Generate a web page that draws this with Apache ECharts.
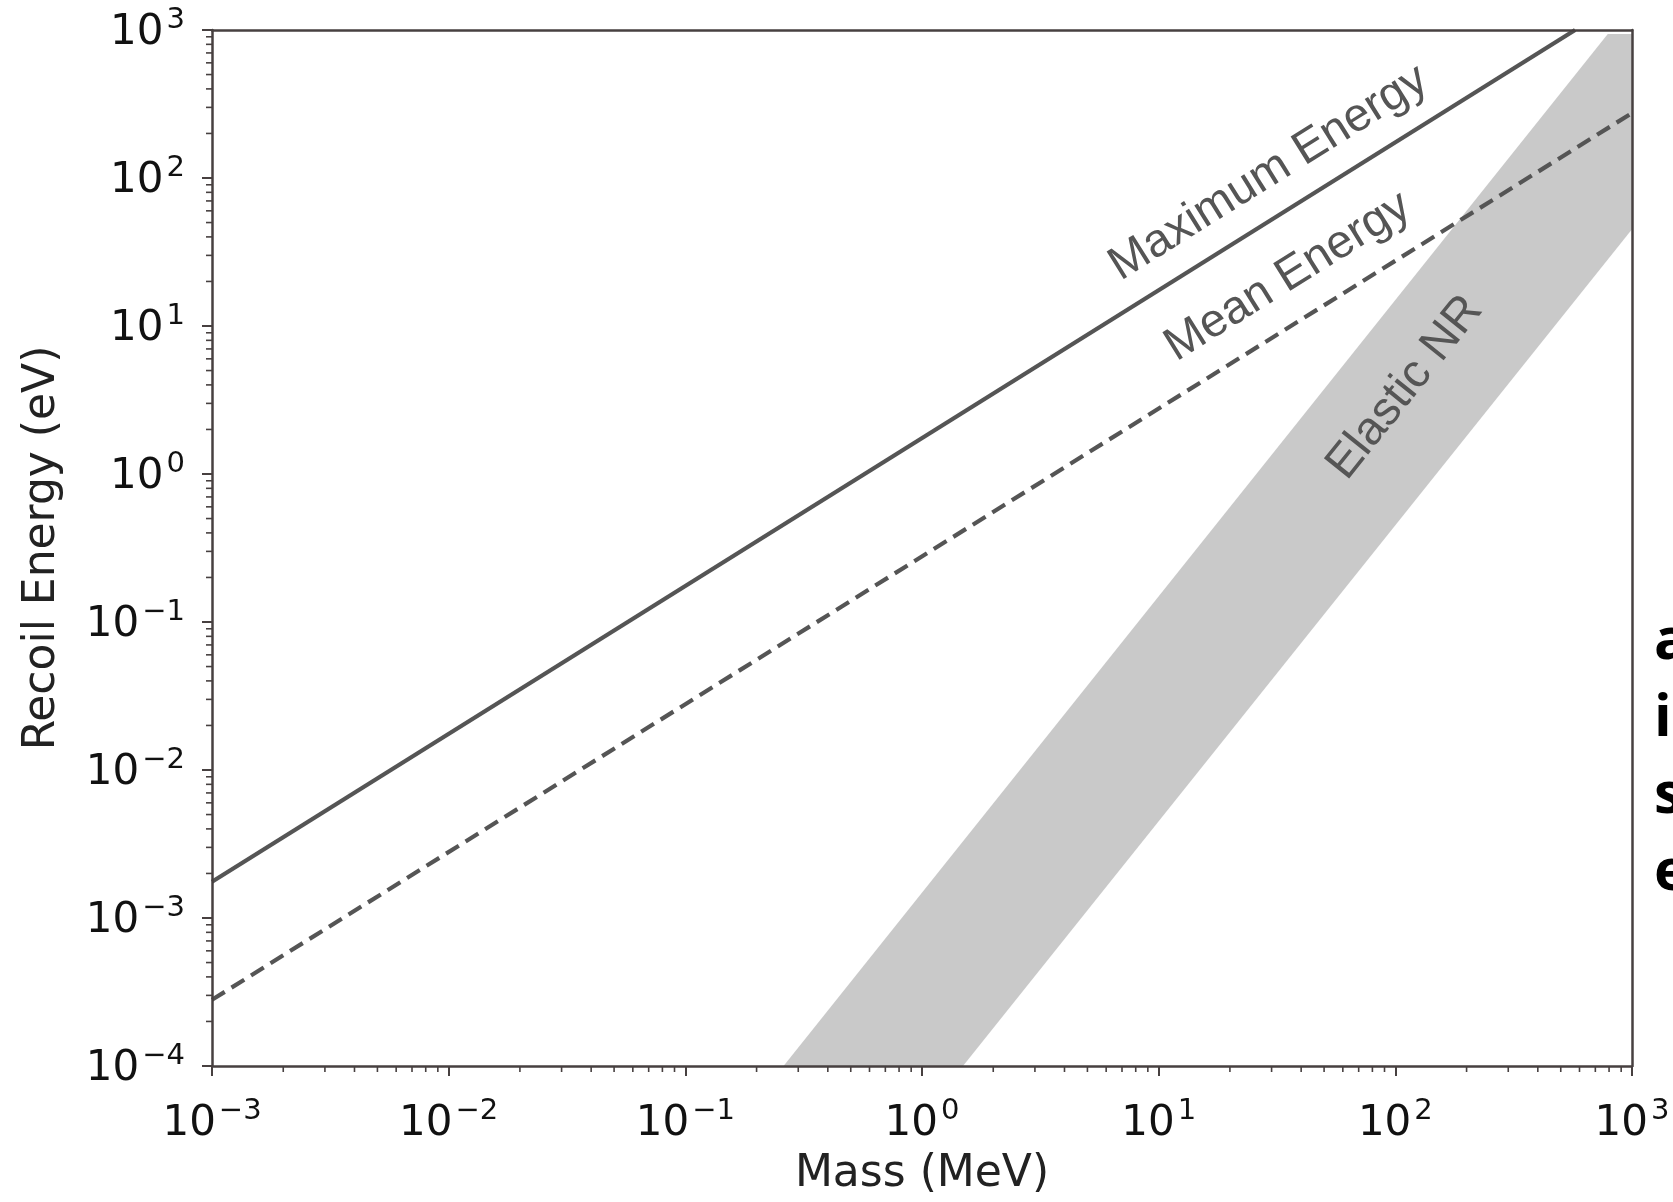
<!DOCTYPE html>
<html><head><meta charset="utf-8">
<script src="https://cdn.jsdelivr.net/npm/echarts@6/dist/echarts.min.js"></script>
<style>html,body{margin:0;padding:0;background:#fff}#c{width:1673px;height:1202px}</style>
</head><body><div id="c"></div>
<script>
// ---- data ----
const massRange = [1e-3, 1e3];           // x axis (MeV)
const energyRange = [1e-4, 1e3];         // y axis (eV)
const minorMultipliers = [2, 3, 4, 5, 6, 7, 8, 9];

const maxEnergyMass = [1e-3, 575];
const maxEnergyValues = [1.76e-3, 1000];

const meanEnergyMass = [1e-3, 1e3];
const meanEnergyValues = [2.8e-4, 275];

// Elastic NR band outline (polygon vertices)
const bandMass = [0.26, 790, 1000, 1000, 1.49];
const bandEnergy = [1e-4, 940, 940, 45, 1e-4];

const annotationText = ['Maximum Energy', 'Mean Energy', 'Elastic NR'];
const annotationMass = [29.2, 35.2, 110];
const annotationEnergy = [108, 21.5, 3.83];

const sideLetters = ['a', 'i', 's', 'e'];

// ---- helpers ----
const decadesX = [];
for (let e = Math.round(Math.log10(massRange[0])); e < Math.round(Math.log10(massRange[1])); e++) decadesX.push(Math.pow(10, e));
const decadesY = [];
for (let e = Math.round(Math.log10(energyRange[0])); e < Math.round(Math.log10(energyRange[1])); e++) decadesY.push(Math.pow(10, e));
const xMinor = [], yMinor = [];
decadesX.forEach(d => minorMultipliers.forEach(m => xMinor.push([d * m, energyRange[0]])));
decadesY.forEach(d => minorMultipliers.forEach(m => yMinor.push([massRange[0], d * m])));

const annotationRef = [
  [[maxEnergyMass[0], maxEnergyValues[0]], [maxEnergyMass[1], maxEnergyValues[1]]],
  [[meanEnergyMass[0], meanEnergyValues[0]], [meanEnergyMass[1], meanEnergyValues[1]]],
  [[bandMass[4], bandEnergy[4]], [bandMass[3], bandEnergy[3]]]
];

const AX = '#474040';
const FONT = 'DejaVu Sans';
function powLabel(v) {
  const e = Math.round(Math.log10(v));
  return '{b|10}{s|' + (e < 0 ? '\u2212' + (-e) : String(e)) + '}';
}
const rich = {
  b: { fontSize: 42, fontFamily: FONT, color: '#111', lineHeight: 48, verticalAlign: 'bottom' },
  s: { fontSize: 29, fontFamily: FONT, color: '#111', lineHeight: 24, verticalAlign: 'top', padding: [0, 0, 0, 3] }
};

const chart = echarts.init(document.getElementById('c'), null, { renderer: 'canvas' });
chart.setOption({
  animation: false,
  backgroundColor: '#fff',
  grid: { left: 212, right: 41, top: 30, bottom: 135 },
  xAxis: [{
    type: 'log', logBase: 10, min: massRange[0], max: massRange[1], splitNumber: 6,
    name: 'Mass (MeV)', nameLocation: 'middle', nameGap: 87, nameMoveOverlap: false,
    nameTextStyle: { fontSize: 44, fontFamily: FONT, color: '#222' },
    axisLine: { show: true, lineStyle: { color: AX, width: 2.5 } },
    axisTick: { show: true, length: 10, lineStyle: { color: AX, width: 2 } },
    axisLabel: { formatter: powLabel, rich: rich, margin: 31 },
    splitLine: { show: false }, z: 5
  }, {
    type: 'log', logBase: 10, min: massRange[0], max: massRange[1], position: 'top',
    axisLine: { show: true, onZero: false, lineStyle: { color: AX, width: 2.5 } },
    axisTick: { show: false }, axisLabel: { show: false }, splitLine: { show: false }, z: 5
  }],
  yAxis: [{
    type: 'log', logBase: 10, min: energyRange[0], max: energyRange[1], splitNumber: 7,
    name: 'Recoil Energy (eV)', nameLocation: 'middle', nameGap: 147, nameMoveOverlap: false,
    nameTextStyle: { fontSize: 44, fontFamily: FONT, color: '#222' },
    axisLine: { show: true, lineStyle: { color: AX, width: 2.5 } },
    axisTick: { show: true, length: 10, lineStyle: { color: AX, width: 2 } },
    axisLabel: { formatter: powLabel, rich: rich, margin: 27 },
    splitLine: { show: false }, z: 5
  }, {
    type: 'log', logBase: 10, min: energyRange[0], max: energyRange[1], position: 'right',
    axisLine: { show: true, onZero: false, lineStyle: { color: AX, width: 2.5 } },
    axisTick: { show: false }, axisLabel: { show: false }, splitLine: { show: false }, z: 5
  }],
  series: [
    {
      type: 'custom', name: 'Elastic NR', clip: true, z: 1,
      data: bandMass.map((m, k) => [m, bandEnergy[k]]),
      renderItem: function (params, api) {
        if (params.dataIndex !== 0) return null;
        const pts = bandMass.map((m, k) => api.coord([m, bandEnergy[k]]));
        return { type: 'polygon', shape: { points: pts }, style: { fill: '#c9c9c9' } };
      }
    },
    {
      type: 'line', name: 'Maximum Energy', symbol: 'none', clip: true, z: 3,
      data: maxEnergyMass.map((m, k) => [m, maxEnergyValues[k]]),
      lineStyle: { color: '#555555', width: 4.2 }
    },
    {
      type: 'line', name: 'Mean Energy', symbol: 'none', clip: true, z: 3,
      data: meanEnergyMass.map((m, k) => [m, meanEnergyValues[k]]),
      lineStyle: { color: '#555555', width: 4.2, type: [15, 8] }
    },
    {
      type: 'custom', name: 'labels', z: 4,
      data: annotationMass.map((m, k) => [m, annotationEnergy[k]]),
      renderItem: function (params, api) {
        const i = params.dataIndex;
        const p = api.coord([annotationMass[i], annotationEnergy[i]]);
        const a = api.coord(annotationRef[i][0]);
        const b = api.coord(annotationRef[i][1]);
        const ang = Math.atan2(a[1] - b[1], b[0] - a[0]);
        return {
          type: 'text', x: p[0], y: p[1], rotation: ang,
          style: { text: annotationText[i], fontSize: 47, fontFamily: 'Liberation Sans', fill: '#555555', align: 'center', verticalAlign: 'middle' }
        };
      }
    },
    {
      type: 'custom', name: 'xminor', z: 6,
      data: xMinor,
      renderItem: function (params, api) {
        const p = api.coord([api.value(0), api.value(1)]);
        return { type: 'line', shape: { x1: p[0], y1: p[1], x2: p[0], y2: p[1] + 6 }, style: { stroke: AX, lineWidth: 1.6 } };
      }
    },
    {
      type: 'custom', name: 'yminor', z: 6,
      data: yMinor,
      renderItem: function (params, api) {
        const p = api.coord([api.value(0), api.value(1)]);
        return { type: 'line', shape: { x1: p[0], y1: p[1], x2: p[0] - 6, y2: p[1] }, style: { stroke: AX, lineWidth: 1.6 } };
      }
    }
  ],
  graphic: sideLetters.map((t, k) => ({
    type: 'text', x: 1654, y: 642 + k * 77,
    style: { text: t, font: 'bold 58px "Open Sans"', fill: '#000', verticalAlign: 'middle' }
  }))
});
</script></body></html>
